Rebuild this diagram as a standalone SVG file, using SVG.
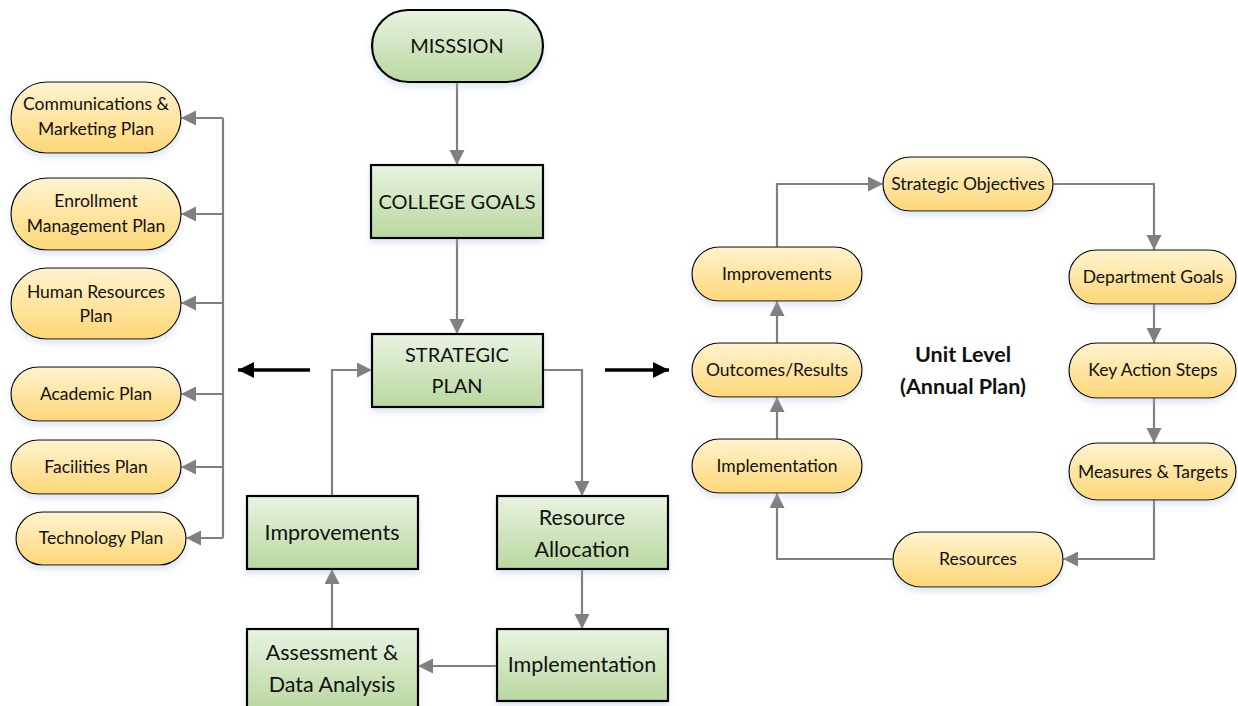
<svg xmlns="http://www.w3.org/2000/svg" width="1238" height="706" viewBox="0 0 1238 706">
<style>
.g{fill:url(#gg);stroke:#000;stroke-width:2.2;filter:url(#sh)}
.y{fill:url(#yg);stroke:#000;stroke-width:1.2;filter:url(#sh)}
.t{font-family:Lato,"Liberation Sans",sans-serif;fill:#111;text-anchor:middle}
.tg{font-size:20px}
.tl{font-size:21.5px}
.ty{font-size:17.5px}
.c{fill:none;stroke:#808080;stroke-width:2.2}
.k{fill:none;stroke:#000;stroke-width:3.5}
</style>
<defs>
<linearGradient id="gg" x1="0" y1="0" x2="0" y2="1">
<stop offset="0" stop-color="#e9f3e1"/><stop offset="1" stop-color="#b9d8a0"/>
</linearGradient>
<linearGradient id="yg" x1="0" y1="0" x2="0" y2="1">
<stop offset="0" stop-color="#fff3cf"/><stop offset="1" stop-color="#fdd777"/>
</linearGradient>
<filter id="sh" x="-10%" y="-10%" width="120%" height="140%">
<feDropShadow dx="0" dy="4" stdDeviation="3" flood-color="#9db5d8" flood-opacity="0.35"/>
</filter>
<marker id="a" markerUnits="userSpaceOnUse" markerWidth="16" markerHeight="16" refX="15" refY="7.5" orient="auto">
<path d="M0,0 L15,7.5 L0,15 z" fill="#808080"/>
</marker>
<marker id="b" markerUnits="userSpaceOnUse" markerWidth="18" markerHeight="18" refX="16" refY="8" orient="auto">
<path d="M0,0 L16,8 L0,16 z" fill="#000"/>
</marker>
</defs>
<rect width="1238" height="706" fill="#fff"/>
<g id="connectors">
<path class="c" d="M457,82 V165" marker-end="url(#a)"/>
<path class="c" d="M457,238 V334" marker-end="url(#a)"/>
<path class="c" d="M543,370 H582 V496" marker-end="url(#a)"/>
<path class="c" d="M582,569 V629" marker-end="url(#a)"/>
<path class="c" d="M497,666 H418" marker-end="url(#a)"/>
<path class="c" d="M332,629 V569" marker-end="url(#a)"/>
<path class="c" d="M332,496 V370 H372" marker-end="url(#a)"/>
<path class="k" d="M310,370 H238" marker-end="url(#b)"/>
<path class="k" d="M605,370 H669" marker-end="url(#b)"/>
<path class="c" d="M223,118 V538"/>
<path class="c" d="M223,118 H181" marker-end="url(#a)"/>
<path class="c" d="M223,214 H181" marker-end="url(#a)"/>
<path class="c" d="M223,303 H181" marker-end="url(#a)"/>
<path class="c" d="M223,394 H181" marker-end="url(#a)"/>
<path class="c" d="M223,467 H181" marker-end="url(#a)"/>
<path class="c" d="M223,538 H186" marker-end="url(#a)"/>
<path class="c" d="M777,247 V184 H883" marker-end="url(#a)"/>
<path class="c" d="M1053,184 H1154 V250" marker-end="url(#a)"/>
<path class="c" d="M1154,304 V343" marker-end="url(#a)"/>
<path class="c" d="M1154,398 V443" marker-end="url(#a)"/>
<path class="c" d="M1154,500 V559 H1063" marker-end="url(#a)"/>
<path class="c" d="M893,559 H777 V493" marker-end="url(#a)"/>
<path class="c" d="M777,439 V397" marker-end="url(#a)"/>
<path class="c" d="M777,343 V301" marker-end="url(#a)"/>
</g>
<g id="mission"><rect class="g" x="372" y="10" width="171" height="72" rx="36"/><text class="t tg" x="457" y="53">MISSSION</text></g>
<g id="college-goals"><rect class="g" x="371" y="165" width="172" height="73"/><text class="t tg" x="457" y="209">COLLEGE GOALS</text></g>
<g id="strategic-plan"><rect class="g" x="372" y="334" width="171" height="73"/><text class="t tg" x="457" y="362">STRATEGIC</text><text class="t tg" x="457" y="393">PLAN</text></g>
<g id="improvements"><rect class="g" x="247" y="496" width="171" height="73"/><text class="t tl" x="332" y="540">Improvements</text></g>
<g id="resource-allocation"><rect class="g" x="497" y="496" width="171" height="73"/><text class="t tl" x="582" y="525">Resource</text><text class="t tl" x="582" y="557">Allocation</text></g>
<g id="assessment"><rect class="g" x="247" y="629" width="171" height="80"/><text class="t tl" x="332" y="660">Assessment &amp;</text><text class="t tl" x="332" y="692">Data Analysis</text></g>
<g id="implementation"><rect class="g" x="497" y="629" width="171" height="72"/><text class="t tl" x="582" y="672">Implementation</text></g>
<g id="comm-plan"><rect class="y" x="11" y="82" width="170" height="71" rx="35.5"/><text class="t ty" x="96" y="110">Communications &amp;</text><text class="t ty" x="96" y="135">Marketing Plan</text></g>
<g id="enrollment-plan"><rect class="y" x="11" y="178" width="170" height="72" rx="36"/><text class="t ty" x="96" y="207">Enrollment</text><text class="t ty" x="96" y="232">Management Plan</text></g>
<g id="hr-plan"><rect class="y" x="11" y="268" width="170" height="71" rx="35.5"/><text class="t ty" x="96" y="298">Human Resources</text><text class="t ty" x="96" y="322">Plan</text></g>
<g id="academic-plan"><rect class="y" x="11" y="367" width="170" height="54" rx="27"/><text class="t ty" x="96" y="400">Academic Plan</text></g>
<g id="facilities-plan"><rect class="y" x="11" y="440" width="170" height="54" rx="27"/><text class="t ty" x="96" y="473">Facilities Plan</text></g>
<g id="technology-plan"><rect class="y" x="16" y="512" width="170" height="53" rx="26.5"/><text class="t ty" x="101" y="544">Technology Plan</text></g>
<g id="strategic-objectives"><rect class="y" x="883" y="157" width="170" height="54" rx="27"/><text class="t ty" x="968" y="190">Strategic Objectives</text></g>
<g id="unit-improvements"><rect class="y" x="692" y="247" width="170" height="54" rx="27"/><text class="t ty" x="777" y="280">Improvements</text></g>
<g id="department-goals"><rect class="y" x="1069" y="250" width="167" height="54" rx="27"/><text class="t ty" x="1153" y="283">Department Goals</text></g>
<g id="outcomes"><rect class="y" x="692" y="343" width="170" height="54" rx="27"/><text class="t ty" x="777" y="376">Outcomes/Results</text></g>
<g id="key-action-steps"><rect class="y" x="1069" y="343" width="167" height="55" rx="27.5"/><text class="t ty" x="1153" y="376">Key Action Steps</text></g>
<g id="unit-implementation"><rect class="y" x="692" y="439" width="170" height="54" rx="27"/><text class="t ty" x="777" y="472">Implementation</text></g>
<g id="measures-targets"><rect class="y" x="1069" y="443" width="167" height="57" rx="28.5"/><text class="t ty" x="1153" y="478">Measures &amp; Targets</text></g>
<g id="resources"><rect class="y" x="893" y="532" width="170" height="55" rx="27.5"/><text class="t ty" x="978" y="565">Resources</text></g>
<g id="unit-level"><text class="t" x="963" y="362" font-size="21.5" font-weight="bold">Unit Level</text><text class="t" x="963" y="394" font-size="21.5" font-weight="bold">(Annual Plan)</text></g>
</svg>
